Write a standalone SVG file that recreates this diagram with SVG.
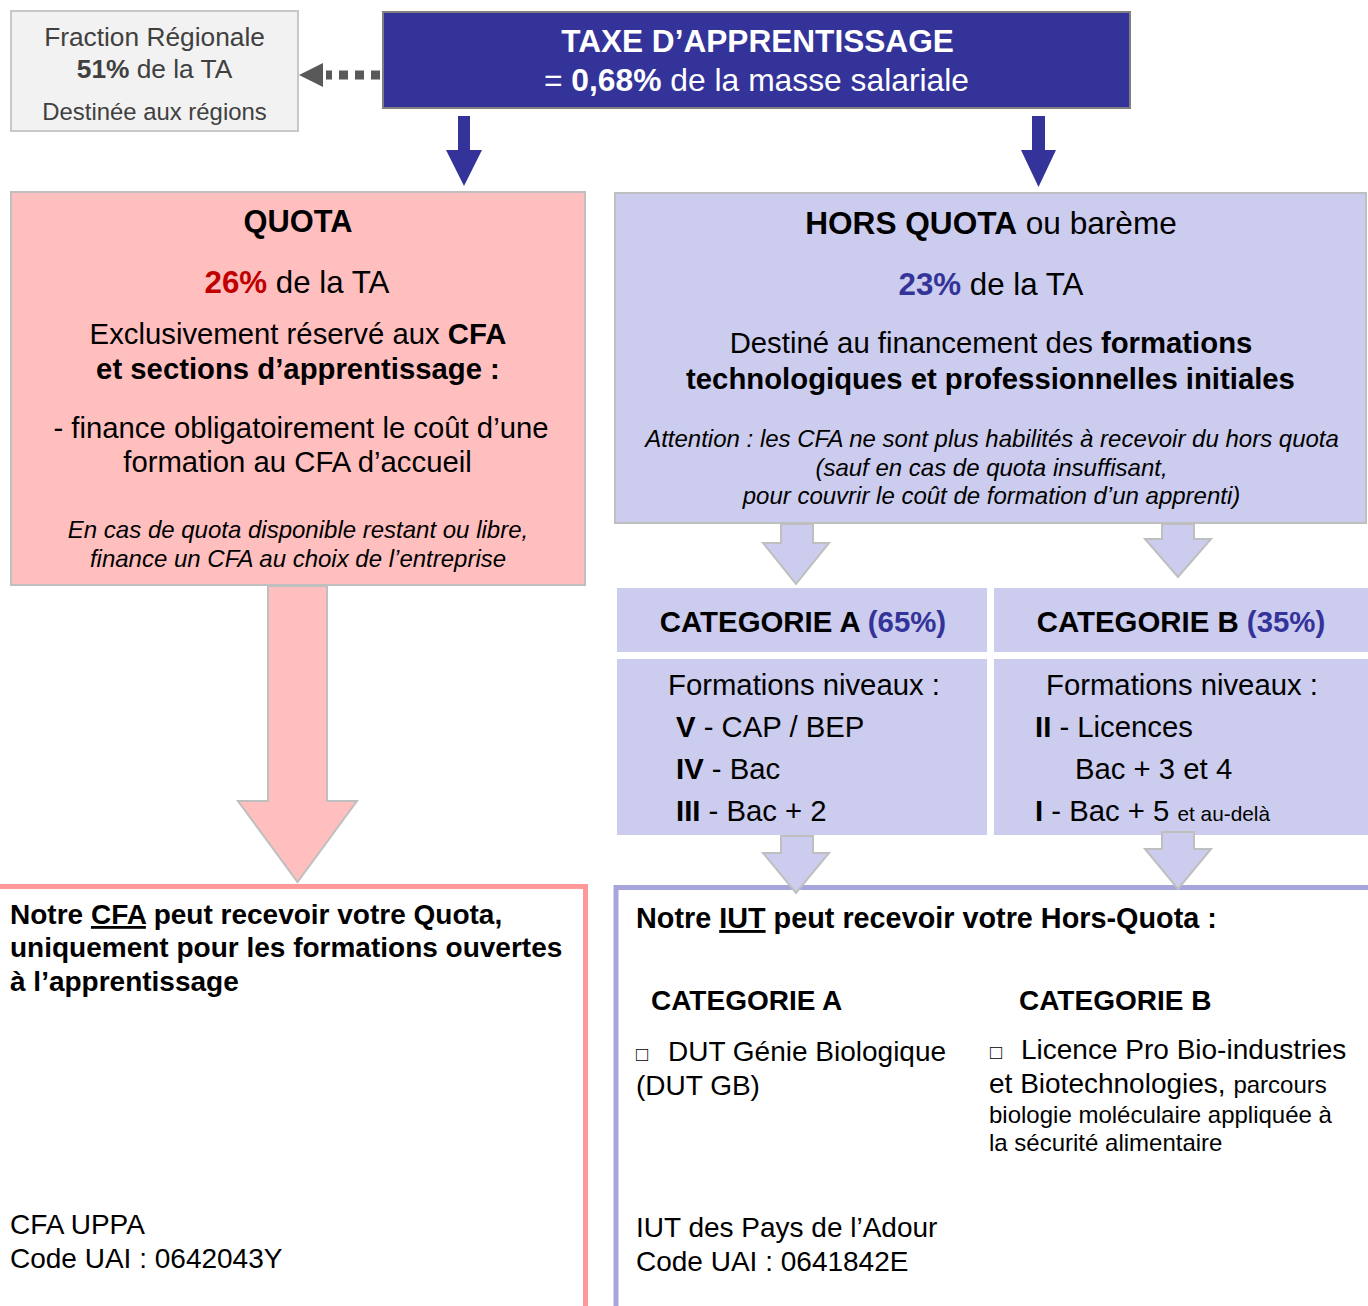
<svg xmlns="http://www.w3.org/2000/svg" width="1368" height="1306" viewBox="0 0 1368 1306">
<style>
text{font-family:"Liberation Sans",Arial,sans-serif;fill:#000}
.b{font-weight:bold}
.i{font-style:italic}
.c{text-anchor:middle}
.gray{fill:#404040}
.w{fill:#fff}
.navy{fill:#333399}
.red{fill:#c00000}
.u{text-decoration:underline}
.box{stroke:#bfbfbf;stroke-width:2}
.pinkf{fill:#ffbfbf}
.lav{fill:#ccccee}
.harrow{fill:#ccccee;stroke:#bfbfbf;stroke-width:2}
.sq{font-size:20px}
</style>
<rect width="1368" height="1306" fill="#fff"/>

<g id="cfa-box">
<rect x="-10" y="886.5" width="595.5" height="500" fill="#fff" stroke="#ff9999" stroke-width="5"/>
<text x="10" y="924" font-size="28" class="b">Notre <tspan class="u">CFA</tspan> peut recevoir votre Quota,</text>
<text x="10" y="957" font-size="28" class="b">uniquement pour les formations ouvertes</text>
<text x="10" y="991" font-size="28" class="b">à l’apprentissage</text>
<text x="10" y="1234" font-size="28">CFA UPPA</text>
<text x="10" y="1268" font-size="28">Code UAI : 0642043Y</text>
</g>

<g id="iut-box">
<rect x="616" y="887.5" width="800" height="500" fill="#fff" stroke="#a6a6dd" stroke-width="5"/>
<text x="636" y="928" font-size="28.8" class="b">Notre <tspan class="u">IUT</tspan> peut recevoir votre Hors-Quota :</text>
<text x="651" y="1010" font-size="28" class="b">CATEGORIE A</text>
<text x="1019" y="1010" font-size="28" class="b">CATEGORIE B</text>
<text y="1061" font-size="28"><tspan x="636" class="sq">□</tspan><tspan x="668">DUT Génie Biologique</tspan></text>
<text x="636" y="1095" font-size="28">(DUT GB)</text>
<text y="1059" font-size="28"><tspan x="990" class="sq">□</tspan><tspan x="1021">Licence Pro Bio-industries</tspan></text>
<text x="989" y="1093" font-size="28">et Biotechnologies, <tspan font-size="24">parcours</tspan></text>
<text x="989" y="1123" font-size="24">biologie moléculaire appliquée à</text>
<text x="989" y="1151" font-size="24">la sécurité alimentaire</text>
<text x="636" y="1237" font-size="28">IUT des Pays de l’Adour</text>
<text x="636" y="1271" font-size="28">Code UAI : 0641842E</text>
</g>

<g id="fraction-regionale">
<rect x="11" y="11" width="287" height="120" fill="#f2f2f2" stroke="#c8c8c8" stroke-width="2"/>
<text x="154.5" y="46" font-size="26.3" class="c gray">Fraction Régionale</text>
<text x="154.5" y="78" font-size="26.3" class="c gray"><tspan class="b gray">51%</tspan> de la TA</text>
<text x="154.5" y="120" font-size="23.9" class="c gray">Destinée aux régions</text>
</g>

<g id="taxe">
<rect x="383" y="12" width="747" height="96" fill="#333399" stroke="#7f7f7f" stroke-width="2"/>
<text x="757.5" y="52" font-size="31.6" class="c b w">TAXE D’APPRENTISSAGE</text>
<text x="756.5" y="91" font-size="31.8" class="c w">= <tspan class="b w">0,68%</tspan> de la masse salariale</text>
</g>

<g id="quota">
<rect x="11" y="192" width="574" height="393" class="box pinkf"/>
<text x="298" y="232" font-size="30.8" class="c b">QUOTA</text>
<text x="297" y="293" font-size="31.3" class="c"><tspan class="b red">26%</tspan> de la TA</text>
<text x="298" y="344" font-size="29.3" class="c">Exclusivement réservé aux <tspan class="b">CFA</tspan></text>
<text x="298" y="379" font-size="29.3" class="c b">et sections d’apprentissage :</text>
<text x="301" y="438" font-size="29.3" class="c">- finance obligatoirement le coût d’une</text>
<text x="297.5" y="472" font-size="29.3" class="c">formation au CFA d’accueil</text>
<text x="298" y="538" font-size="24" class="c i">En cas de quota disponible restant ou libre,</text>
<text x="298" y="567" font-size="24" class="c i">finance un CFA au choix de l’entreprise</text>
</g>

<g id="hors-quota">
<rect x="615" y="193" width="751" height="330" class="box lav"/>
<text x="991" y="234" font-size="31.6" class="c"><tspan class="b">HORS QUOTA</tspan> ou barème</text>
<text x="991" y="295" font-size="31.3" class="c"><tspan class="b navy">23%</tspan> de la TA</text>
<text x="991" y="353" font-size="29.3" class="c">Destiné au financement des <tspan class="b">formations</tspan></text>
<text x="990.5" y="389" font-size="29.3" class="c b">technologiques et professionnelles initiales</text>
<text x="992" y="447" font-size="24" class="c i">Attention : les CFA ne sont plus habilités à recevoir du hors quota</text>
<text x="991.5" y="476" font-size="24" class="c i">(sauf en cas de quota insuffisant,</text>
<text x="991.5" y="504" font-size="24" class="c i">pour couvrir le coût de formation d’un apprenti)</text>
</g>

<g id="categorie-a">
<rect x="617" y="588" width="370" height="64" class="lav"/>
<text x="803" y="632" font-size="29.4" class="c b">CATEGORIE A <tspan class="navy">(65%)</tspan></text>
<rect x="617" y="659" width="370" height="176" class="lav"/>
<text x="668" y="695" font-size="29.3">Formations niveaux :</text>
<text x="676" y="737" font-size="29.3"><tspan class="b">V</tspan> - CAP / BEP</text>
<text x="676" y="779" font-size="29.3"><tspan class="b">IV</tspan> - Bac</text>
<text x="676" y="821" font-size="29.3"><tspan class="b">III</tspan> - Bac + 2</text>
</g>

<g id="categorie-b">
<rect x="994" y="588" width="380" height="64" class="lav"/>
<text x="1181" y="632" font-size="29.4" class="c b">CATEGORIE B <tspan class="navy">(35%)</tspan></text>
<rect x="994" y="659" width="380" height="176" class="lav"/>
<text x="1046" y="695" font-size="29.3">Formations niveaux :</text>
<text x="1035" y="737" font-size="29.3"><tspan class="b">II</tspan> - Licences</text>
<text x="1075" y="779" font-size="29.3">Bac + 3 et 4</text>
<text x="1035" y="821" font-size="29.3"><tspan class="b">I</tspan> - Bac + 5 <tspan font-size="20.8">et au-delà</tspan></text>
</g>

<g id="connectors">
<path d="M380,75 L326,75" stroke="#595959" stroke-width="9" stroke-dasharray="9 7" fill="none"/>
<polygon points="299,75 323,63 323,87" fill="#595959"/>
<polygon points="458,116 470,116 470,150 482,150 464,186 446,150 458,150" fill="#333399"/>
<polygon points="1032,116 1045,116 1045,150 1056,150 1038.5,187 1021,150 1032,150" fill="#333399"/>
<polygon points="268,586 327,586 327,801 357,801 297.5,882 238,801 268,801" fill="#ffbfbf" stroke="#bfbfbf" stroke-width="2"/>
<polygon points="781,524 813,524 813,543 829,543 796,584 763,543 781,543" class="harrow"/>
<polygon points="1162,524 1194,524 1194,539 1211,539 1178,577 1145,539 1162,539" class="harrow"/>
<polygon points="781,836 813,836 813,853 829,853 796,893 763,853 781,853" class="harrow"/>
<polygon points="1162,832 1194,832 1194,849 1211,849 1178,889 1145,849 1162,849" class="harrow"/>
</g>
</svg>
